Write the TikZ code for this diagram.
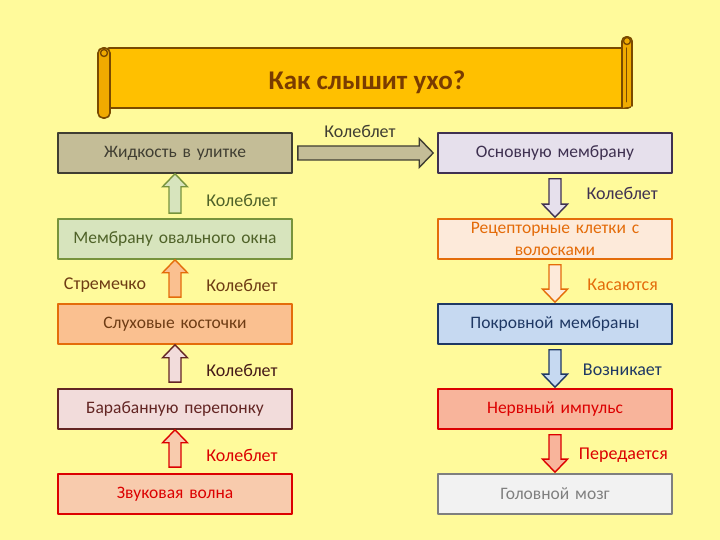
\documentclass[tikz,border=0pt]{standalone}
\usepackage{fontspec}
\setmainfont{Carlito}
\usetikzlibrary{calc}
\definecolor{bg}{RGB}{255,250,155}
\definecolor{scrollfill}{RGB}{255,192,0}
\definecolor{scrollroll}{RGB}{240,170,0}
\definecolor{scrolldraw}{RGB}{122,74,0}
\definecolor{titletext}{RGB}{122,60,0}
\definecolor{tanfill}{RGB}{196,189,151}
\definecolor{tandraw}{RGB}{64,62,50}
\definecolor{greenfill}{RGB}{215,228,189}
\definecolor{greendraw}{RGB}{119,147,60}
\definecolor{greentext}{RGB}{79,98,40}
\definecolor{orfill}{RGB}{250,192,144}
\definecolor{ordraw}{RGB}{228,108,10}
\definecolor{ortext}{RGB}{110,60,20}
\definecolor{pinkfill}{RGB}{242,220,219}
\definecolor{pinkdraw}{RGB}{99,37,35}
\definecolor{peachfill}{RGB}{248,203,173}
\definecolor{redline}{RGB}{220,0,0}
\definecolor{lavfill}{RGB}{230,224,236}
\definecolor{lavdraw}{RGB}{63,49,81}
\definecolor{recfill}{RGB}{253,234,218}
\definecolor{bluefill}{RGB}{198,217,241}
\definecolor{bluedraw}{RGB}{31,56,100}
\definecolor{salmonfill}{RGB}{248,180,155}
\definecolor{grayfill}{RGB}{242,242,242}
\definecolor{graydraw}{RGB}{127,127,127}

\begin{document}
\begin{tikzpicture}[x=1pt, y=1pt, line join=round, line cap=round,
	box/.style={draw, line width=1.6pt, minimum width=234pt, minimum height=40pt,
		inner sep=2pt, text width=226pt, align=center, font=\fontsize{17.5}{19}\selectfont},
	lbl/.style={font=\fontsize{18}{19}\selectfont, inner sep=0pt},
	barrow/.style={line width=1.4pt, line join=miter}]
	\def \sw{6pt} %nửa bề rộng thân mũi tên
	\def \hw{12.5pt} %nửa bề rộng đầu mũi tên
	\def \hl{13pt} %chiều dài đầu mũi tên
	\def\blk#1#2#3{%
		\coordinate (hb) at ($(#2)!\hl!(#1)$);
		\draw[barrow,#3] ($(#1)!\sw!90:(#2)$) -- ($(hb)!\sw!90:(#2)$) -- ($(hb)!\hw!90:(#2)$)
			-- (#2) -- ($(hb)!\hw!-90:(#2)$) -- ($(hb)!\sw!-90:(#2)$) -- ($(#1)!\sw!-90:(#2)$) -- cycle;}
	\fill[bg] (0,0) rectangle (720,540);
	\useasboundingbox (0,0) rectangle (720,540);
	% cuộn giấy tiêu đề
	\draw[scrolldraw, fill=scrollfill, line width=1.6pt, rounded corners=3pt] (106,432) rectangle (631,492);
	\draw[scrolldraw, fill=scrollroll, line width=1.6pt, rounded corners=4pt] (622,432) -- (622,503) -- (632,503) -- (632,434);
	\draw[scrolldraw, fill=scrollroll, line width=1.4pt] (627,499) circle (3.5pt);
	\draw[scrolldraw, line width=1pt] (626.5,438) -- (626.5,492);
	\draw[scrolldraw, fill=scrollroll, line width=1.6pt, rounded corners=5pt] (98,422) rectangle (110,492);
	\draw[scrolldraw, fill=scrollroll, line width=1.4pt] (104,487) circle (3.5pt);
	\node[titletext, font=\fontsize{27}{29}\selectfont\bfseries] (title) at (367,458) {Как слышит ухо?};
	% cột trái
	\node[box, draw=tandraw, fill=tanfill, text=tandraw] (fluid) at (175,387) {Жидкость в улитке};
	\node[box, draw=greendraw, fill=greenfill, text=greentext] (ovalwin) at (175,301) {Мембрану овального окна};
	\node[box, draw=ordraw, fill=orfill, text=ortext] (ossicles) at (175,216) {Слуховые косточки};
	\node[box, draw=pinkdraw, fill=pinkfill, text=pinkdraw] (eardrum) at (175,131) {Барабанную перепонку};
	\node[box, draw=redline, fill=peachfill, text=redline] (sound) at (175,46) {Звуковая волна};
	% cột phải
	\node[box, draw=lavdraw, fill=lavfill, text=lavdraw] (basilar) at (555,387) {Основную мембрану};
	\node[box, draw=ordraw, fill=recfill, text=ordraw, font=\fontsize{17.5}{22}\selectfont] (receptor) at (555,301) {Рецепторные клетки с\\волосками};
	\node[box, draw=bluedraw, fill=bluefill, text=bluedraw] (tectorial) at (555,216) {Покровной мембраны};
	\node[box, draw=redline, fill=salmonfill, text=redline] (impulse) at (555,131) {Нервный импульс};
	\node[box, draw=graydraw, fill=grayfill, text=graydraw] (brain) at (555,46) {Головной мозг};
	% mũi tên
	\coordinate (a1) at ($(ovalwin.north)+(0,5)$);
	\coordinate (a2) at ($(ossicles.north)+(0,6)$);
	\coordinate (a3) at ($(eardrum.north)+(0,6)$);
	\coordinate (a4) at ($(sound.north)+(0,6)$);
	\blk{a1}{fluid.south}{draw=greendraw, fill=greenfill}
	\blk{a2}{ovalwin.south}{draw=ordraw, fill=orfill}
	\blk{a3}{ossicles.south}{draw=pinkdraw, fill=pinkfill}
	\blk{a4}{eardrum.south}{draw=redline, fill=peachfill}
	\coordinate (b1) at ($(basilar.south)+(0,-5)$);
	\coordinate (b2) at ($(receptor.south)+(0,-5)$);
	\coordinate (b3) at ($(tectorial.south)+(0,-5)$);
	\coordinate (b4) at ($(impulse.south)+(0,-5)$);
	\coordinate (c1) at ($(receptor.north)+(0,1)$);
	\coordinate (c2) at ($(tectorial.north)+(0,1)$);
	\coordinate (c3) at ($(impulse.north)+(0,1)$);
	\coordinate (c4) at ($(brain.north)+(0,1)$);
	\blk{b1}{c1}{draw=lavdraw, fill=lavfill}
	\blk{b2}{c2}{draw=ordraw, fill=recfill}
	\blk{b3}{c3}{draw=bluedraw, fill=bluefill}
	\blk{b4}{c4}{draw=redline, fill=salmonfill}
	\def \sw{7pt}
	\def \hw{14.5pt}
	\def \hl{14pt}
	\coordinate (h1) at ($(fluid.east)+(5,0)$);
	\coordinate (h2) at ($(basilar.west)+(-4,0)$);
	\blk{h1}{h2}{draw=tandraw, fill=tanfill}
	% nhãn
	\node[lbl, tandraw] (lh) at (360,409) {Колеблет};
	\node[lbl, greentext] (l1) at (242,340) {Колеблет};
	\node[lbl, ortext] (l2a) at (105,255) {Стремечко};
	\node[lbl, ortext] (l2) at (242,255) {Колеблет};
	\node[lbl, pinkdraw!70!black] (l3) at (242,170) {Колеблет};
	\node[lbl, redline] (l4) at (242,85) {Колеблет};
	\node[lbl, lavdraw, anchor=east] (r1) at (658,347) {Колеблет};
	\node[lbl, ordraw, anchor=east] (r2) at (658,255) {Касаются};
	\node[lbl, bluedraw, anchor=east] (r3) at (662,170) {Возникает};
	\node[lbl, redline, anchor=east] (r4) at (668,85) {Передается};
\end{tikzpicture}
\end{document}
